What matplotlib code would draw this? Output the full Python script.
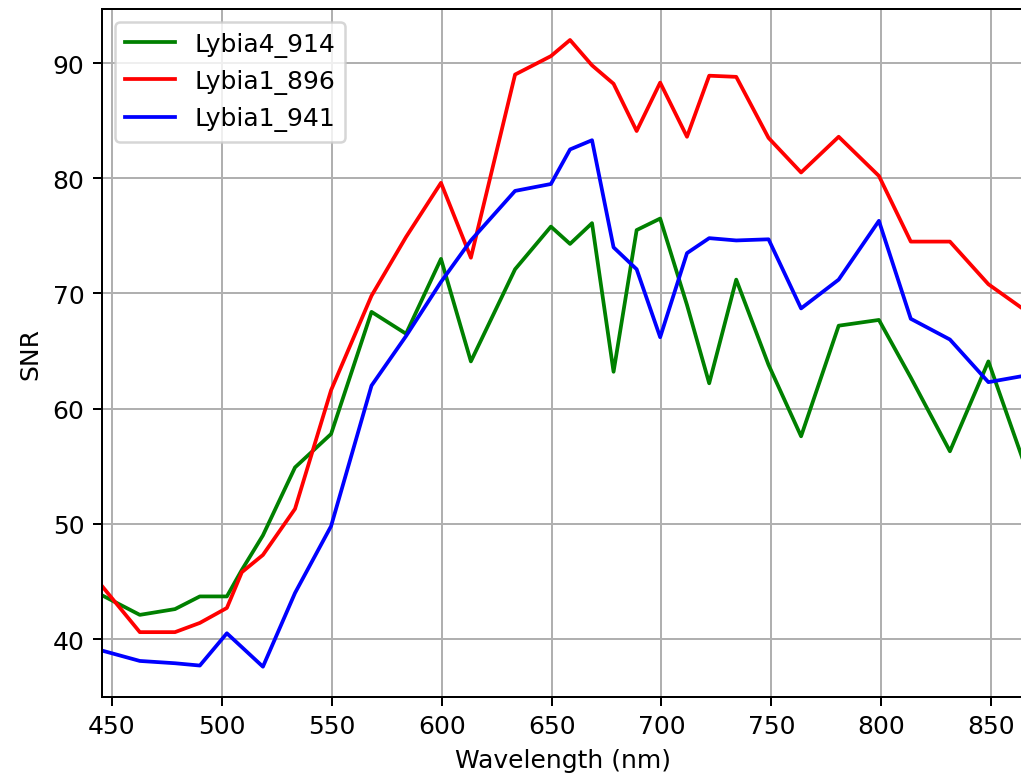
import matplotlib
matplotlib.use("Agg")
import matplotlib.pyplot as plt

wavelength = [445.5, 462.7, 478.7, 490.0, 502.3, 509.1, 518.7, 533.3, 549.7, 568.1,
              583.8, 599.7, 613.3, 633.4, 649.7, 658.4, 668.4, 678.2, 688.7, 699.4,
              711.6, 721.7, 734.0, 748.7, 763.5, 780.6, 798.9, 813.4, 831.2, 848.7, 864.9]

lybia4_914 = [43.8, 42.1, 42.6, 43.7, 43.7, 46.0, 49.0, 54.9, 57.8, 68.4,
              66.5, 73.0, 64.1, 72.1, 75.8, 74.3, 76.1, 63.2, 75.5, 76.5,
              69.0, 62.2, 71.2, 63.8, 57.6, 67.2, 67.7, 62.7, 56.3, 64.1, 55.3]

lybia1_896 = [44.6, 40.6, 40.6, 41.4, 42.7, 45.8, 47.3, 51.3, 61.6, 69.8,
              74.9, 79.6, 73.1, 89.0, 90.6, 92.0, 89.8, 88.2, 84.1, 88.3,
              83.6, 88.9, 88.8, 83.5, 80.5, 83.6, 80.2, 74.5, 74.5, 70.8, 68.6]

lybia1_941 = [39.0, 38.1, 37.9, 37.7, 40.5, 39.3, 37.6, 44.0, 49.8, 62.0,
              66.3, 71.0, 74.6, 78.9, 79.5, 82.5, 83.3, 74.0, 72.1, 66.2,
              73.5, 74.8, 74.6, 74.7, 68.7, 71.2, 76.3, 67.8, 66.0, 62.3, 62.85]

series_names = ["Lybia4_914", "Lybia1_896", "Lybia1_941"]
series_colors = ["green", "red", "blue"]

dpi = 180
fig = plt.figure(figsize=(1021 / dpi, 782 / dpi), dpi=dpi)
ax = fig.add_axes([102 / 1021, 84 / 782, (1024 - 102) / 1021, (772 - 84) / 782])

for name, vals, col in zip(series_names, [lybia4_914, lybia1_896, lybia1_941], series_colors):
    ax.plot(wavelength, vals, color=col, label=name, linewidth=1.5)

ax.set_xlim(wavelength[0], wavelength[-1])
ax.set_ylim(34.97, 94.69)
ax.set_xticks([450, 500, 550, 600, 650, 700, 750, 800, 850])
ax.set_yticks([40, 50, 60, 70, 80, 90])
ax.grid(True)
ax.set_xlabel("Wavelength (nm)")
ax.set_ylabel("SNR")
ax.legend(loc="upper left")

fig.savefig("out.png", dpi=dpi)
